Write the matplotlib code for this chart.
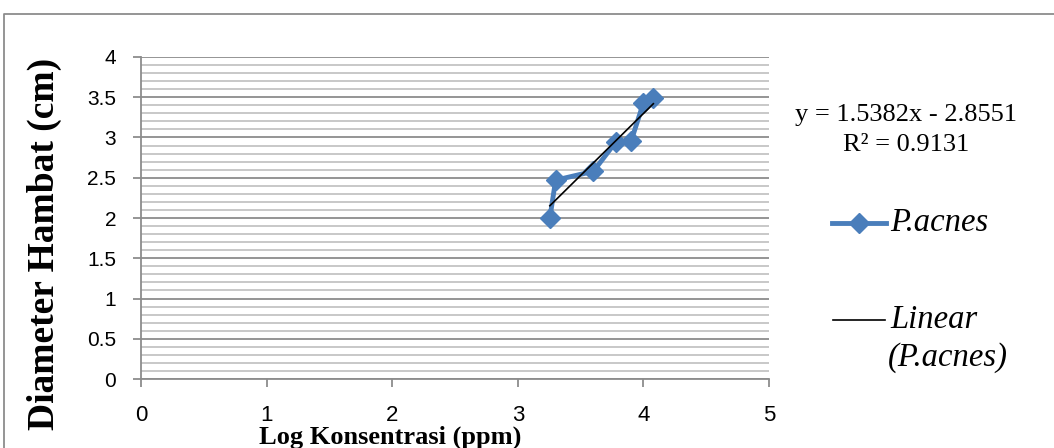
import numpy as np
import matplotlib
matplotlib.use("Agg")
import matplotlib.pyplot as plt
from matplotlib.ticker import MultipleLocator
from matplotlib.lines import Line2D

# ---- data ----
log_konsentrasi = [3.2553, 3.3010, 3.6021, 3.7782, 3.9031, 4.0000, 4.0792]
diameter_hambat = [2.00, 2.47, 2.58, 2.94, 2.96, 3.43, 3.49]
slope = 1.5382
intercept = -2.8551
r_squared = 0.9131
series_name = "P.acnes"
x_ticks = [0, 1, 2, 3, 4, 5]
y_ticks = [0, 0.5, 1, 1.5, 2, 2.5, 3, 3.5, 4]
y_tick_labels = ["0", "0.5", "1", "1.5", "2", "2.5", "3", "3.5", "4"]

W, H = 1054, 448
fig = plt.figure(figsize=(W / 100, H / 100), dpi=100)

def fx(px):
    return px / W

def fy(py):
    return 1 - py / H

ax = fig.add_axes([fx(141), fy(379), fx(769) - fx(141), fy(57) - fy(379)])

blue = "#4a7ebb"
grid_major = "#8c8c8c"
grid_minor = "#c4c4c4"
axis_col = "#8c8c8c"

ax.plot(log_konsentrasi, diameter_hambat, color=blue, lw=3.5, marker="D",
        markersize=10.5, markerfacecolor=blue, markeredgecolor=blue, zorder=3,
        solid_joinstyle="round")
xl = np.array([min(log_konsentrasi), max(log_konsentrasi)])
ax.plot(xl, slope * xl + intercept, color="black", lw=1.2, zorder=4)

ax.set_xlim(0, 5)
ax.set_ylim(0, 4)
ax.set_xticks(x_ticks)
ax.set_yticks(y_ticks)
ax.set_yticklabels(y_tick_labels)
ax.yaxis.set_minor_locator(MultipleLocator(0.1))
ax.grid(axis="y", which="major", color=grid_major, lw=1.3, zorder=0)
ax.grid(axis="y", which="minor", color=grid_minor, lw=1.3, zorder=0)
ax.set_axisbelow(True)

for s in ["top", "right"]:
    ax.spines[s].set_visible(False)
for s in ["left", "bottom"]:
    ax.spines[s].set_color(axis_col)
    ax.spines[s].set_linewidth(1.3)

tick_font = ["Liberation Sans", "DejaVu Sans"]
ax.tick_params(axis="both", which="major", direction="out", length=6,
               width=1.3, color=axis_col)
ax.tick_params(axis="x", which="major", pad=12.5, labelsize=16)
ax.tick_params(axis="y", which="major", pad=12, labelsize=15)
ax.tick_params(which="minor", length=0)
for lab in ax.get_xticklabels() + ax.get_yticklabels():
    lab.set_family(tick_font)

serif = ["Liberation Serif", "DejaVu Serif"]
fig.text(fx(390), fy(437), "Log Konsentrasi (ppm)", ha="center", va="center",
         fontsize=19, fontweight="bold", family=serif)
fig.text(fx(44), fy(244), "Diameter Hambat (cm)", ha="center", va="center",
         rotation=90, fontsize=27, fontweight="bold", family=serif)

# trendline equation
fig.text(fx(906), fy(115), f"y = {slope}x - {abs(intercept)}", ha="center",
         va="center", fontsize=19, family=serif)
fig.text(fx(906), fy(145), f"R² = {r_squared}", ha="center", va="center",
         fontsize=19, family=serif)

# legend
fig.add_artist(Line2D([fx(832), fx(886)], [fy(223), fy(223)], color=blue,
                      lw=3.5, transform=fig.transFigure))
fig.add_artist(Line2D([fx(859)], [fy(223)], color=blue, marker="D",
                      markersize=10.5, transform=fig.transFigure))
fig.text(fx(890), fy(223), series_name, ha="left", va="center", fontsize=23.5,
         style="italic", family=serif)
fig.add_artist(Line2D([fx(833), fx(885)], [fy(320), fy(320)], color="black",
                      lw=1.2, transform=fig.transFigure))
fig.text(fx(890), fy(320), "Linear", ha="left", va="center", fontsize=23.5,
         style="italic", family=serif)
fig.text(fx(888), fy(358), f"({series_name})", ha="left", va="center",
         fontsize=23.5, style="italic", family=serif)

# chart area border
fig.add_artist(Line2D([fx(4), fx(4), 1.0], [0.0, fy(14), fy(14)],
                      color="#8c8c8c", lw=1.3, transform=fig.transFigure))

fig.savefig("out.png", dpi=100)
